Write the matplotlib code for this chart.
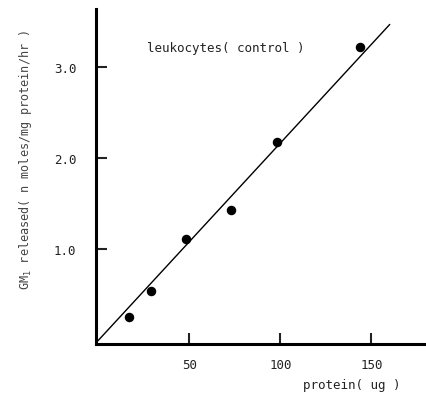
import numpy as np
import matplotlib.pyplot as plt

plt.rcParams['font.family'] = ['DejaVu Sans Mono']

# leukocytes (control)
protein = [17, 29, 48, 73, 98, 144]
gm1_released = [0.26, 0.54, 1.12, 1.43, 2.18, 3.22]

fit_x = [0, 160]
fit_y = [0, 3.47]

x_ticks = [50, 100, 150]
y_ticks = [1.0, 2.0, 3.0]
y_ticklabels = ['1.0', '2.0', '3.0']

fig = plt.figure(figsize=(4.26, 4.06), dpi=100)
ax = fig.add_axes([0.225, 0.15, 0.775, 0.825])

ax.plot(fit_x, fit_y, color='black', linewidth=1.0)
ax.scatter(protein, gm1_released, s=34, color='black', zorder=3)

ax.set_xlim(-1.3, 180)
ax.set_ylim(-0.04, 3.64)

for side in ['top', 'right']:
    ax.spines[side].set_visible(False)
for side in ['left', 'bottom']:
    ax.spines[side].set_linewidth(2.2)

ax.set_xticks(x_ticks)
ax.set_yticks(y_ticks)
ax.set_yticklabels(y_ticklabels)
ax.tick_params(axis='both', direction='in', length=8, width=1.5, labelsize=9, colors='#222222')
ax.tick_params(axis='x', pad=10)
ax.tick_params(axis='y', pad=14)

ax.text(27, 3.22, 'leukocytes( control )', fontsize=9, va='center', color='#222222')

fig.text(0.826, 0.05, 'protein( ug )', fontsize=9, ha='center', va='center', color='#222222')
fig.text(0.06, 0.605, 'GM$_1$ released( n moles/mg protein/hr )', fontsize=8.5,
         rotation=90, ha='center', va='center', color='#444444')

fig.savefig('out.png', dpi=100)
